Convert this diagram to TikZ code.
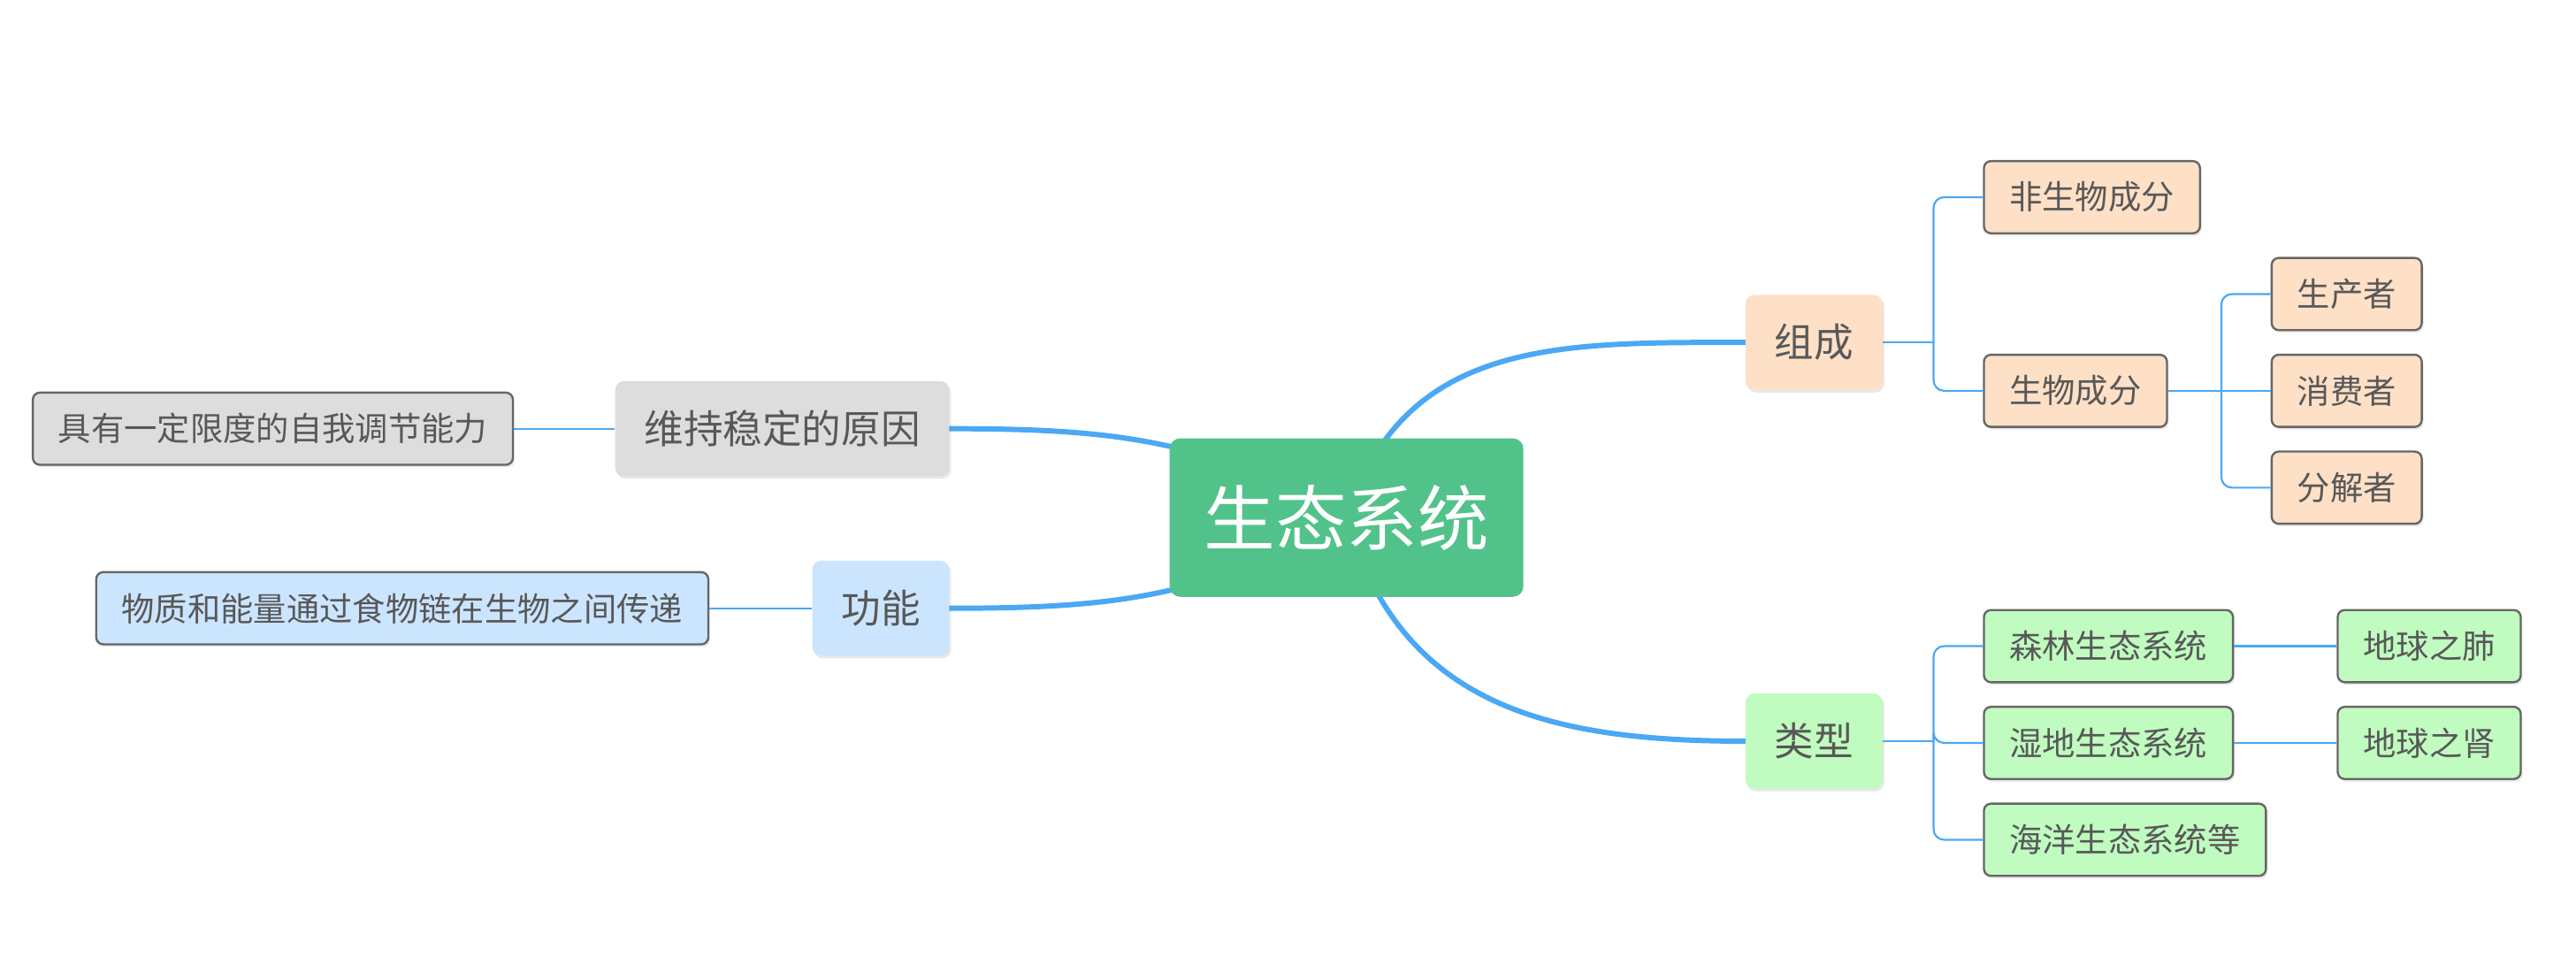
\documentclass[tikz,border=0pt]{standalone}
\usepackage{fontspec}
\setmainfont{Noto Sans CJK SC}
\usetikzlibrary{backgrounds,shadows}

\definecolor{rootgreen}{RGB}{82,194,139}
\definecolor{peach}{RGB}{253,224,198}
\definecolor{mint}{RGB}{192,251,192}
\definecolor{greybox}{RGB}{221,221,221}
\definecolor{skyblue}{RGB}{204,229,255}
\definecolor{linkblue}{RGB}{74,168,245}
\definecolor{textgrey}{RGB}{88,88,88}
\definecolor{framegrey}{RGB}{102,102,102}

\begin{document}
\begin{tikzpicture}[x=0.5pt,y=-0.5pt]
	% Define styles for the nodes and the connectors
	\tikzstyle{root} = [rectangle, rounded corners=6pt, fill=rootgreen, text=white, font=\fontsize{40.5}{48}\selectfont, minimum width=201pt, minimum height=90pt]
	\tikzstyle{topic} = [rectangle, rounded corners=5pt, text=textgrey, font=\fontsize{22.4}{27}\selectfont, inner xsep=16.5pt, minimum height=54pt, drop shadow={shadow xshift=1pt, shadow yshift=-1.5pt, opacity=0.18}]
	\tikzstyle{leaf} = [rectangle, rounded corners=4pt, draw=framegrey, line width=1.2pt, text=textgrey, font=\fontsize{18.75}{22}\selectfont, inner xsep=14.5pt, minimum height=41pt, drop shadow={shadow xshift=1pt, shadow yshift=-1.5pt, opacity=0.18}]
	\tikzstyle{branch} = [draw=linkblue, line width=3pt, line cap=round]
	\tikzstyle{twig} = [draw=linkblue, line width=1.1pt]

	\useasboundingbox (0,0) rectangle (2927,1087);

	% The centre and the main topics
	\node[root] (root) at (1530, 588) {生态系统};

	\node[topic, fill=peach, anchor=west] (parts) at (1983, 389) {组成};
	\node[topic, fill=mint, anchor=west] (kinds) at (1983, 842) {类型};
	\node[topic, fill=greybox, anchor=east] (stable) at (1079, 487) {维持稳定的原因};
	\node[topic, fill=skyblue, anchor=east] (func) at (1079, 691) {功能};

	% Leaves on the left
	\node[leaf, fill=greybox, anchor=east] (selfreg) at (584, 487) {具有一定限度的自我调节能力};
	\node[leaf, fill=skyblue, anchor=east] (flow) at (806, 691) {物质和能量通过食物链在生物之间传递};

	% Leaves of the parts
	\node[leaf, fill=peach, anchor=west] (abiotic) at (2253, 224) {非生物成分};
	\node[leaf, fill=peach, anchor=west] (biotic) at (2253, 444) {生物成分};
	\node[leaf, fill=peach, anchor=west] (producer) at (2580, 334) {生产者};
	\node[leaf, fill=peach, anchor=west] (consumer) at (2580, 444) {消费者};
	\node[leaf, fill=peach, anchor=west] (decomposer) at (2580, 554) {分解者};

	% Leaves of the kinds
	\node[leaf, fill=mint, anchor=west] (forest) at (2253, 734) {森林生态系统};
	\node[leaf, fill=mint, anchor=west] (wetland) at (2253, 844) {湿地生态系统};
	\node[leaf, fill=mint, anchor=west] (ocean) at (2253, 954) {海洋生态系统等};
	\node[leaf, fill=mint, anchor=west] (lung) at (2655, 734) {地球之肺};
	\node[leaf, fill=mint, anchor=west] (kidney) at (2655, 844) {地球之肾};

	% Fork points
	\coordinate (k1) at (2197, 389);
	\coordinate (k2) at (2524, 444);
	\coordinate (k3) at (2197, 842);

	% Thick curves from the centre
	\begin{scope}[on background layer]
		\draw[branch] (root.center) .. controls +(66,-203) and +(-213,0) .. (parts.west);
		\draw[branch] (root.center) .. controls +(61,214) and +(-223,0) .. (kinds.west);
		\draw[branch] (root.center) .. controls +(-157,-90) and +(181,0) .. (stable.east);
		\draw[branch] (root.center) .. controls +(-157,92) and +(181,0) .. (func.east);
	\end{scope}

	% Thin connectors
	\draw[twig] (stable.west) -- (selfreg.east);
	\draw[twig] (func.west) -- (flow.east);

	\draw[twig] (parts.east) -- (k1);
	\draw[twig, rounded corners=6pt] (k1) |- (abiotic.west);
	\draw[twig, rounded corners=6pt] (k1) |- (biotic.west);

	\draw[twig] (biotic.east) -- (consumer.west);
	\draw[twig, rounded corners=6pt] (k2) |- (producer.west);
	\draw[twig, rounded corners=6pt] (k2) |- (decomposer.west);

	\draw[twig] (kinds.east) -- (k3);
	\draw[twig, rounded corners=6pt] (k3) |- (forest.west);
	\draw[twig, rounded corners=6pt] (k3) |- (wetland.west);
	\draw[twig, rounded corners=6pt] (k3) |- (ocean.west);

	\draw[twig] (forest.east) -- (lung.west);
	\draw[twig] (wetland.east) -- (kidney.west);

\end{tikzpicture}
\end{document}
